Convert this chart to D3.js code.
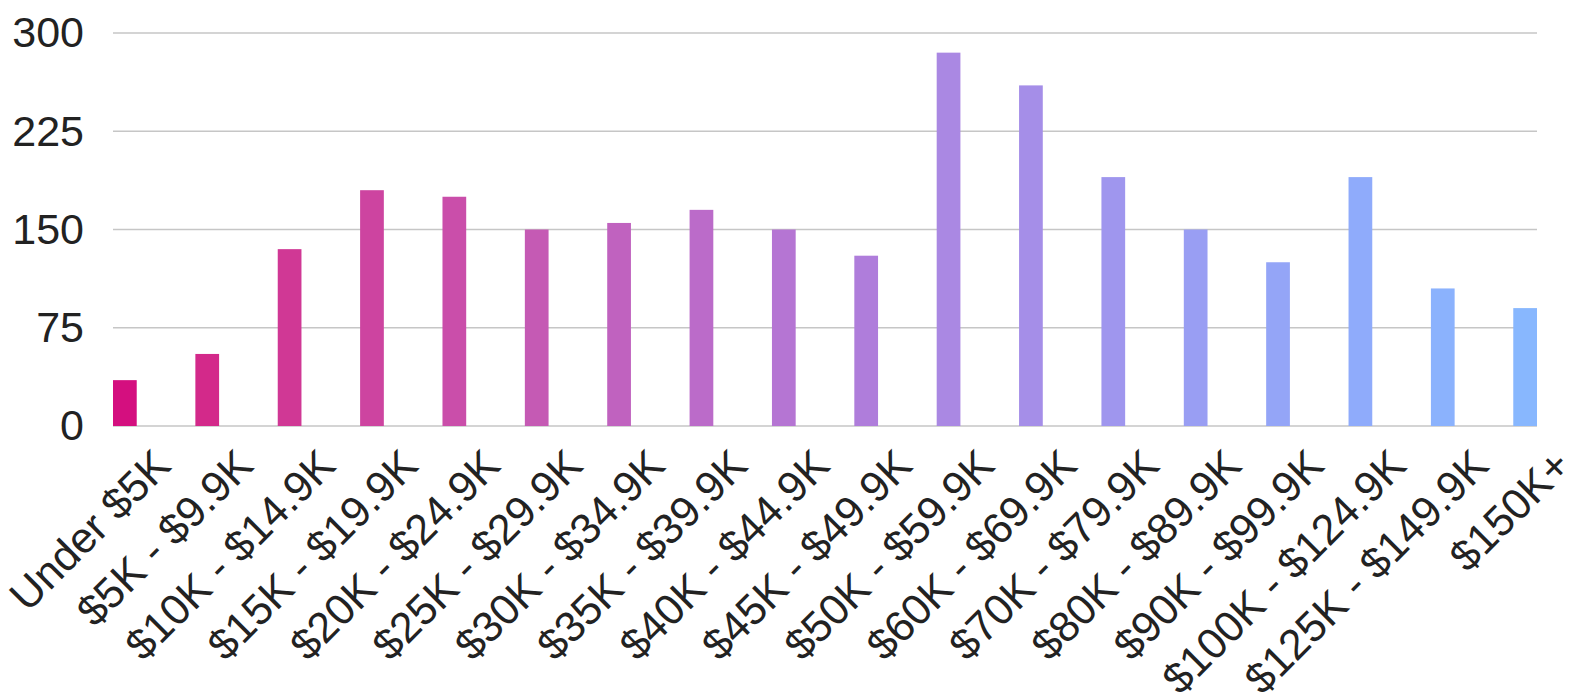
<!DOCTYPE html>
<html>
<head>
<meta charset="utf-8">
<script src="https://cdn.jsdelivr.net/npm/d3@7"></script>
<style>
  html, body { margin: 0; padding: 0; background: #fff; }
  svg { display: block; }
  text { font-family: "Liberation Sans", Arial, sans-serif; fill: #222; }
</style>
</head>
<body>
<svg id="chart" width="1589" height="696"></svg>
<script>
const categories = ["Under $5K", "$5K - $9.9K", "$10K - $14.9K", "$15K - $19.9K", "$20K - $24.9K",
  "$25K - $29.9K", "$30K - $34.9K", "$35K - $39.9K", "$40K - $44.9K", "$45K - $49.9K",
  "$50K - $59.9K", "$60K - $69.9K", "$70K - $79.9K", "$80K - $89.9K", "$90K - $99.9K",
  "$100K - $124.9K", "$125K - $149.9K", "$150K+"];
const values = [35, 55, 135, 180, 175, 150, 155, 165, 150, 130, 285, 260, 190, 150, 125, 190, 105, 90];
const yTicks = [0, 75, 150, 225, 300];
const barColors = ["#d40f7f", "#d3298a", "#d03895", "#cd44a0", "#ca4eaa", "#c55ab4", "#c062bf",
  "#bb6bc9", "#b575d3", "#af7ddb", "#aa88e3", "#a58ee8", "#9f96ee", "#999ef3", "#94a5f7",
  "#8fabfb", "#8bb2fd", "#88b7fe"];

(function () {
const svg = d3.select("#chart");
const plotLeft = 113, plotRight = 1537, plotTop = 33, plotBottom = 426;
const fontSize = 43;

const x = d3.scaleBand().domain(categories).range([plotLeft, plotRight]).paddingInner(0.712).paddingOuter(0);
const y = d3.scaleLinear().domain([0, 300]).range([plotBottom, plotTop]);

// gridlines
svg.append("g").selectAll("line").data(yTicks).join("line")
  .attr("x1", plotLeft).attr("x2", plotRight)
  .attr("y1", d => y(d)).attr("y2", d => y(d))
  .attr("stroke", "#c6c6c6").attr("stroke-width", d => d === 0 ? 1.6 : 1.3);

// y axis labels
const yAxis = d3.axisLeft(y).tickValues(yTicks).tickSize(0).tickPadding(0);
const yg = svg.append("g").attr("transform", `translate(${plotLeft - 29},0)`).call(yAxis);
yg.select(".domain").remove();
yg.selectAll("text")
  .attr("font-size", fontSize)
  .attr("font-family", "Liberation Sans, Arial, sans-serif")
  .attr("fill", "#222")
  .attr("dy", "0.32em");

// bars
svg.append("g").selectAll("rect").data(values).join("rect")
  .attr("x", (d, i) => x(categories[i]))
  .attr("y", d => y(d))
  .attr("width", x.bandwidth())
  .attr("height", d => y(0) - y(d))
  .attr("fill", (d, i) => barColors[i]);

// x axis labels
const xAxis = d3.axisBottom(x).tickSize(0).tickPadding(0);
const xg = svg.append("g").attr("transform", `translate(0,${plotBottom})`).call(xAxis);
xg.select(".domain").remove();
xg.selectAll(".tick text")
  .attr("font-size", fontSize)
  .attr("font-family", "Liberation Sans, Arial, sans-serif")
  .attr("fill", "#222")
  .attr("text-anchor", "end")
  .attr("dy", null)
  .attr("y", 0)
  .attr("transform", "translate(48,42) rotate(-45)");
})();
</script>
</body>
</html>
